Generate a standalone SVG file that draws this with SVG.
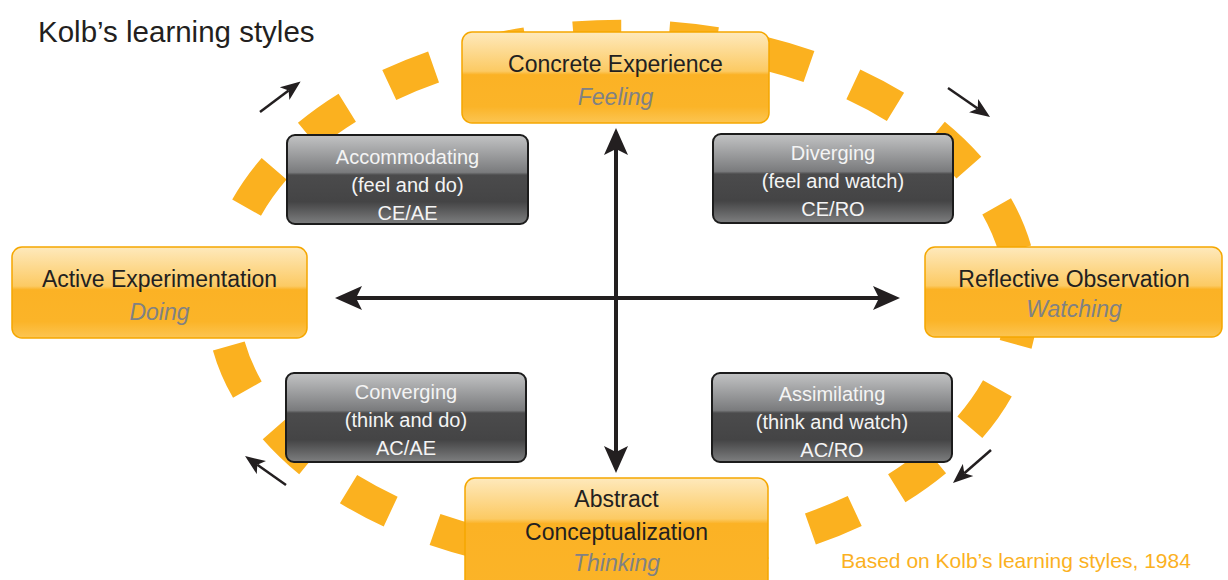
<svg xmlns="http://www.w3.org/2000/svg" width="1228" height="580" viewBox="0 0 1228 580">
  <style>
    .t { font-family: "Liberation Sans", Arial, sans-serif; }
    .lbl { font-size: 23px; fill: #231f20; text-anchor: middle; }
    .sub { font-size: 23px; fill: #808184; font-style: italic; text-anchor: middle; }
    .dk { font-size: 20px; fill: #f4f4f4; text-anchor: middle; }
    .obox { stroke: #f5a700; stroke-width: 1.5; }
    .dbox { stroke: #1c1c1c; stroke-width: 2; fill: url(#gDark); }
    .big { stroke: #231f20; stroke-width: 4; fill: none; }
    .small { stroke: #231f20; stroke-width: 2.5; fill: none; }
  </style>
  <defs>
    <linearGradient id="gOrange" x1="0" y1="0" x2="0" y2="1">
      <stop offset="0" stop-color="#fee9bc"/>
      <stop offset="0.43" stop-color="#fcca63"/>
      <stop offset="0.47" stop-color="#fbb225"/>
      <stop offset="0.82" stop-color="#fbb428"/>
      <stop offset="1" stop-color="#fcc552"/>
    </linearGradient>
    <linearGradient id="gOrangeAC" x1="0" y1="0" x2="0" y2="1">
      <stop offset="0" stop-color="#fee9bc"/>
      <stop offset="0.34" stop-color="#fcca63"/>
      <stop offset="0.38" stop-color="#fbb225"/>
      <stop offset="1" stop-color="#fbb428"/>
    </linearGradient>
    <linearGradient id="gDark" x1="0" y1="0" x2="0" y2="1">
      <stop offset="0" stop-color="#c2c3c4"/>
      <stop offset="0.42" stop-color="#7a7b7d"/>
      <stop offset="0.45" stop-color="#4b4b4c"/>
      <stop offset="0.75" stop-color="#444445"/>
      <stop offset="1" stop-color="#7e7f80"/>
    </linearGradient>
    <marker id="mBig" viewBox="0 -13 28 26" markerWidth="28" markerHeight="26" refX="6" refY="0" orient="auto-start-reverse" markerUnits="userSpaceOnUse">
      <path d="M0,-12 L27,0 L0,12 L6,0 Z" fill="#231f20"/>
    </marker>
    <marker id="mSmall" viewBox="0 -9 21 18" markerWidth="21" markerHeight="18" refX="5" refY="0" orient="auto" markerUnits="userSpaceOnUse">
      <path d="M0,-8 L20,0 L0,8 L5,0 Z" fill="#231f20"/>
    </marker>
  </defs>

  <rect width="1228" height="580" fill="#ffffff"/>

  <g id="cycle">
    <path d="M 1022 298 A 400 262 0 0 1 222 298 A 400 262 0 0 1 1022 298 Z" fill="none" stroke="#fbb11f" stroke-width="33" pathLength="2200" stroke-dasharray="50 50" stroke-dashoffset="0.8"/>
  </g>

  <g id="connectors">
    <line class="big" x1="616" y1="149" x2="616" y2="452" marker-start="url(#mBig)" marker-end="url(#mBig)"/>
    <line class="big" x1="356" y1="298" x2="879" y2="298" marker-start="url(#mBig)" marker-end="url(#mBig)"/>
    <line class="small" x1="260" y1="112" x2="288.6" y2="90.6" marker-end="url(#mSmall)"/>
    <line class="small" x1="948" y1="88" x2="977.7" y2="108.5" marker-end="url(#mSmall)"/>
    <line class="small" x1="991" y1="450" x2="964.3" y2="473.2" marker-end="url(#mSmall)"/>
    <line class="small" x1="286" y1="485" x2="257.3" y2="464.7" marker-end="url(#mSmall)"/>
  </g>

  <g id="title">
    <text class="t" x="38" y="42" font-size="29.5" fill="#231f20">Kolb’s learning styles</text>
  </g>

  <g id="ce">
    <rect class="obox" x="462" y="32" width="307" height="91" rx="10" fill="url(#gOrange)"/>
    <text class="t lbl" x="615.5" y="72">Concrete Experience</text>
    <text class="t sub" x="615.5" y="105">Feeling</text>
  </g>

  <g id="ae">
    <rect class="obox" x="12" y="247" width="295" height="91" rx="10" fill="url(#gOrange)"/>
    <text class="t lbl" x="159.5" y="287">Active Experimentation</text>
    <text class="t sub" x="159.5" y="320">Doing</text>
  </g>

  <g id="ro">
    <rect class="obox" x="925" y="247" width="297" height="90" rx="10" fill="url(#gOrange)"/>
    <text class="t lbl" x="1074" y="287">Reflective Observation</text>
    <text class="t sub" x="1074" y="317">Watching</text>
  </g>

  <g id="ac">
    <rect class="obox" x="465" y="478" width="303" height="120" rx="10" fill="url(#gOrangeAC)"/>
    <text class="t lbl" x="616.5" y="507">Abstract</text>
    <text class="t lbl" x="616.5" y="540">Conceptualization</text>
    <text class="t sub" x="616.5" y="571">Thinking</text>
  </g>

  <g id="accommodating">
    <rect class="dbox" x="287" y="135" width="241" height="89" rx="8"/>
    <text class="t dk" x="407.5" y="164">Accommodating</text>
    <text class="t dk" x="407.5" y="192">(feel and do)</text>
    <text class="t dk" x="407.5" y="220">CE/AE</text>
  </g>

  <g id="diverging">
    <rect class="dbox" x="713" y="134" width="240" height="89" rx="8"/>
    <text class="t dk" x="833" y="160">Diverging</text>
    <text class="t dk" x="833" y="188">(feel and watch)</text>
    <text class="t dk" x="833" y="216">CE/RO</text>
  </g>

  <g id="converging">
    <rect class="dbox" x="286" y="373" width="240" height="89" rx="8"/>
    <text class="t dk" x="406" y="399">Converging</text>
    <text class="t dk" x="406" y="427">(think and do)</text>
    <text class="t dk" x="406" y="455">AC/AE</text>
  </g>

  <g id="assimilating">
    <rect class="dbox" x="712" y="373" width="240" height="89" rx="8"/>
    <text class="t dk" x="832" y="401">Assimilating</text>
    <text class="t dk" x="832" y="429">(think and watch)</text>
    <text class="t dk" x="832" y="457">AC/RO</text>
  </g>

  <g id="footer">
    <text class="t" x="841" y="568" font-size="21" fill="#fbb11f">Based on Kolb’s learning styles, 1984</text>
  </g>
</svg>
